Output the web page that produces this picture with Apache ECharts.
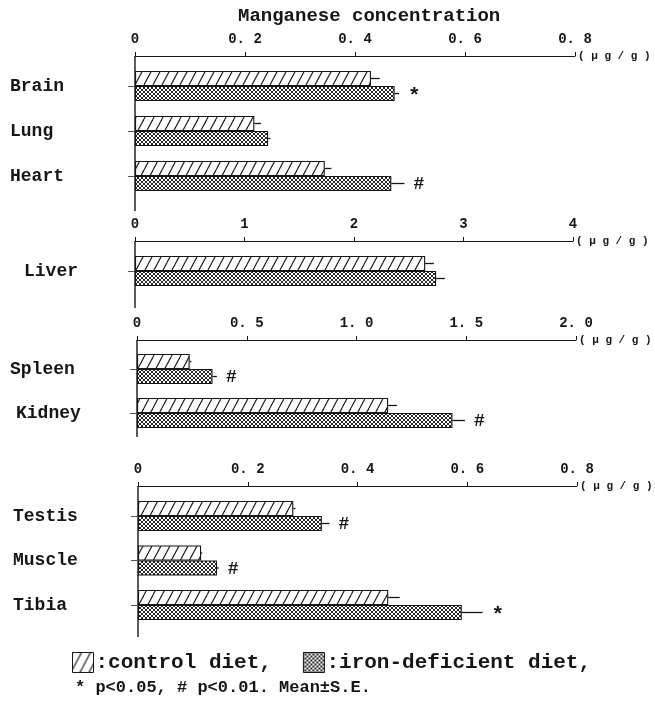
<!DOCTYPE html>
<html>
<head>
<meta charset="utf-8">
<script src="https://cdn.jsdelivr.net/npm/echarts@6.0.0/dist/echarts.min.js"></script>
<style>
  html, body { margin: 0; padding: 0; background: #fff; }
  #chart { width: 655px; height: 702px; }
</style>
</head>
<body>
<div id="chart"></div>
<script>
// ---- Data (µg/g, mean and S.E.) ----
// Panel 1: brain, lung, heart
const organs1 = ['Brain', 'Lung', 'Heart'];
const control1 = [0.429, 0.217, 0.345];
const controlSE1 = [0.016, 0.012, 0.012];
const iron1 = [0.472, 0.242, 0.466];
const ironSE1 = [0.008, 0.004, 0.024];
const sig1 = ['*', '', '#'];
const ticks1 = ['0', '0. 2', '0. 4', '0. 6', '0. 8'];

// Panel 2: liver
const organs2 = ['Liver'];
const control2 = [2.65];
const controlSE2 = [0.08];
const iron2 = [2.75];
const ironSE2 = [0.08];
const sig2 = [''];
const ticks2 = ['0', '1', '2', '3', '4'];

// Panel 3: spleen, kidney
const organs3 = ['Spleen', 'Kidney'];
const control3 = [0.24, 1.144];
const controlSE3 = [0.008, 0.04];
const iron3 = [0.344, 1.437];
const ironSE3 = [0.02, 0.057];
const sig3 = ['#', '#'];
const ticks3 = ['0', '0. 5', '1. 0', '1. 5', '2. 0'];

// Panel 4: testis, muscle, tibia
const organs4 = ['Testis', 'Muscle', 'Tibia'];
const control4 = [0.283, 0.115, 0.456];
const controlSE4 = [0.004, 0.002, 0.021];
const iron4 = [0.335, 0.144, 0.590];
const ironSE4 = [0.014, 0.003, 0.038];
const sig4 = ['#', '#', '*'];
const ticks4 = ['0', '0. 2', '0. 4', '0. 6', '0. 8'];

const scales = [
  { max: 0.8, interval: 0.2 },
  { max: 4, interval: 1 },
  { max: 2, interval: 0.5 },
  { max: 0.8, interval: 0.2 }
];

const panels = [
  { cats: organs1, ctrl: control1, ctrlSE: controlSE1, iron: iron1, ironSE: ironSE1, sig: sig1, ticks: ticks1 },
  { cats: organs2, ctrl: control2, ctrlSE: controlSE2, iron: iron2, ironSE: ironSE2, sig: sig2, ticks: ticks2 },
  { cats: organs3, ctrl: control3, ctrlSE: controlSE3, iron: iron3, ironSE: ironSE3, sig: sig3, ticks: ticks3 },
  { cats: organs4, ctrl: control4, ctrlSE: controlSE4, iron: iron4, ironSE: ironSE4, sig: sig4, ticks: ticks4 }
];

// ---- Layout ----
const layout = [
  { left: 135, width: 440, top: 63.5, height: 135, offset: 7.5, lineTop: 56, lineBottom: 211, labelMargin: 125 },
  { left: 135, width: 438, top: 248.5, height: 45, offset: 7.5, lineTop: 241, lineBottom: 308, labelMargin: 111 },
  { left: 137, width: 439, top: 347, height: 88, offset: 7, lineTop: 340, lineBottom: 437, labelMargin: 127 },
  { left: 138, width: 439, top: 493.75, height: 133.5, offset: 7.75, lineTop: 486, lineBottom: 637, labelMargin: 125 }
];

const FONT = 'Liberation Mono';
const INK = '#161616';
const BAR_W = 15;

// Significance marks: glyph size and vertical nudge so each sits on the bar centre
const markStyle = {
  '*': { size: 21, dy: 3 },
  '#': { size: 18, dy: 1 }
};

// Fill patterns: single diagonal hatch and fine cross-hatch
function hatchCanvas() {
  const w = 9, h = 17;
  const c = document.createElement('canvas');
  c.width = w; c.height = h;
  const g = c.getContext('2d');
  g.fillStyle = '#fff';
  g.fillRect(0, 0, w, h);
  g.strokeStyle = INK;
  g.lineWidth = 1.1;
  for (let k = -1; k <= 1; k++) {
    g.beginPath();
    g.moveTo(k * w, h);
    g.lineTo(k * w + w, 0);
    g.stroke();
  }
  return c;
}
function crossCanvas() {
  const s = 4;
  const c = document.createElement('canvas');
  c.width = s; c.height = s;
  const g = c.getContext('2d');
  g.fillStyle = '#fff';
  g.fillRect(0, 0, s, s);
  g.strokeStyle = '#1a1a1a';
  g.lineWidth = 0.95;
  g.beginPath();
  g.moveTo(0, 0); g.lineTo(s, s);
  g.moveTo(0, s); g.lineTo(s, 0);
  g.stroke();
  return c;
}
const hatchFill = { image: hatchCanvas(), repeat: 'repeat' };
const crossFill = { image: crossCanvas(), repeat: 'repeat' };

function errorRenderer(offset, sigs) {
  return function (params, api) {
    const idx = api.value(0);
    const m = api.value(1);
    const se = api.value(2);
    const a = api.coord([m, idx]);
    const b = api.coord([m + se, idx]);
    const y = a[1] + offset;
    const children = [{
      type: 'line',
      shape: { x1: a[0], y1: y, x2: b[0], y2: y },
      style: { stroke: INK, lineWidth: 1.3 }
    }];
    const s = sigs ? sigs[params.dataIndex] : '';
    if (s) {
      const ms = markStyle[s];
      children.push({
        type: 'text',
        style: {
          text: s, x: b[0] + 9, y: y + ms.dy,
          align: 'left', verticalAlign: 'middle',
          font: 'bold ' + ms.size + 'px "' + FONT + '"', fill: INK
        }
      });
    }
    return { type: 'group', children: children };
  };
}

const grid = [], xAxis = [], yAxis = [], series = [], graphic = [];

panels.forEach(function (p, i) {
  const L = layout[i];
  const sc = scales[i];
  grid.push({
    left: L.left, width: L.width, top: L.top, height: L.height,
    containLabel: false, outerBoundsMode: 'none'
  });
  xAxis.push({
    gridIndex: i, type: 'value', position: 'top',
    min: 0, max: sc.max, interval: sc.interval, offset: L.offset,
    axisLine: { show: true, lineStyle: { color: INK, width: 1 } },
    axisTick: { show: true, length: 4, lineStyle: { color: INK } },
    splitLine: { show: false },
    axisLabel: {
      margin: 10, fontFamily: FONT, fontWeight: 'bold', fontSize: 14, color: INK,
      formatter: function (v) { return p.ticks[Math.round(v / sc.interval)]; }
    },
    name: '( μ g / g )', nameLocation: 'end', nameGap: 3,
    nameTextStyle: { fontFamily: FONT, fontWeight: 'bold', fontSize: 11, color: INK, verticalAlign: 'middle' }
  });
  yAxis.push({
    gridIndex: i, type: 'category', data: p.cats, inverse: true,
    axisLine: { show: false },
    axisTick: { show: true, alignWithLabel: true, length: 7, lineStyle: { color: '#555' } },
    axisLabel: {
      align: 'left', margin: L.labelMargin,
      fontFamily: FONT, fontWeight: 'bold', fontSize: 18, color: INK,
      formatter: function (v) { return v === 'Kidney' ? '{ind|' + v + '}' : v; },
      rich: { ind: { padding: [0, 0, 0, 6], fontFamily: FONT, fontWeight: 'bold', fontSize: 18, color: INK } }
    }
  });
  series.push({
    type: 'bar', name: 'control diet', xAxisIndex: i, yAxisIndex: i,
    data: p.ctrl, barWidth: BAR_W, barGap: '0%', silent: true,
    itemStyle: { color: hatchFill, borderColor: INK, borderWidth: 1.1 }
  });
  series.push({
    type: 'bar', name: 'iron-deficient diet', xAxisIndex: i, yAxisIndex: i,
    data: p.iron, barWidth: BAR_W, barGap: '0%', silent: true,
    itemStyle: { color: crossFill, borderColor: INK, borderWidth: 1.1 }
  });
  series.push({
    type: 'custom', xAxisIndex: i, yAxisIndex: i, silent: true,
    data: p.ctrl.map(function (m, k) { return [k, m, p.ctrlSE[k]]; }),
    encode: { x: 1, y: 0 },
    renderItem: errorRenderer(-BAR_W / 2, null)
  });
  series.push({
    type: 'custom', xAxisIndex: i, yAxisIndex: i, silent: true,
    data: p.iron.map(function (m, k) { return [k, m, p.ironSE[k]]; }),
    encode: { x: 1, y: 0 },
    renderItem: errorRenderer(BAR_W / 2, p.sig)
  });
  // vertical axis line spanning from the value axis down past the last group
  graphic.push({
    type: 'line', silent: true,
    shape: { x1: L.left, y1: L.lineTop, x2: L.left, y2: L.lineBottom },
    style: { stroke: INK, lineWidth: 1.4 }
  });
});

graphic.push({
  type: 'text', left: 75, top: 679, silent: true,
  style: { text: '* p<0.05, # p<0.01. Mean±S.E.', font: 'bold 17px "' + FONT + '"', fill: INK }
});

const chart = echarts.init(document.getElementById('chart'), null, { renderer: 'canvas' });
chart.setOption({
  backgroundColor: '#fff',
  animation: false,
  title: {
    text: 'Manganese concentration', left: 238, top: 7, padding: 0,
    textStyle: { fontFamily: FONT, fontWeight: 'bold', fontSize: 19, color: INK }
  },
  legend: {
    data: ['control diet', 'iron-deficient diet'],
    left: 72, top: 652, padding: 0,
    itemWidth: 21, itemHeight: 20, itemGap: 31,
    icon: 'rect', selectedMode: false,
    formatter: function (n) { return ':' + n + ','; },
    itemStyle: { borderColor: INK, borderWidth: 1 },
    textStyle: { fontFamily: FONT, fontWeight: 'bold', fontSize: 21, color: INK, padding: [0, 0, 0, -3] }
  },
  grid: grid,
  xAxis: xAxis,
  yAxis: yAxis,
  series: series,
  graphic: graphic
});
</script>
</body>
</html>
